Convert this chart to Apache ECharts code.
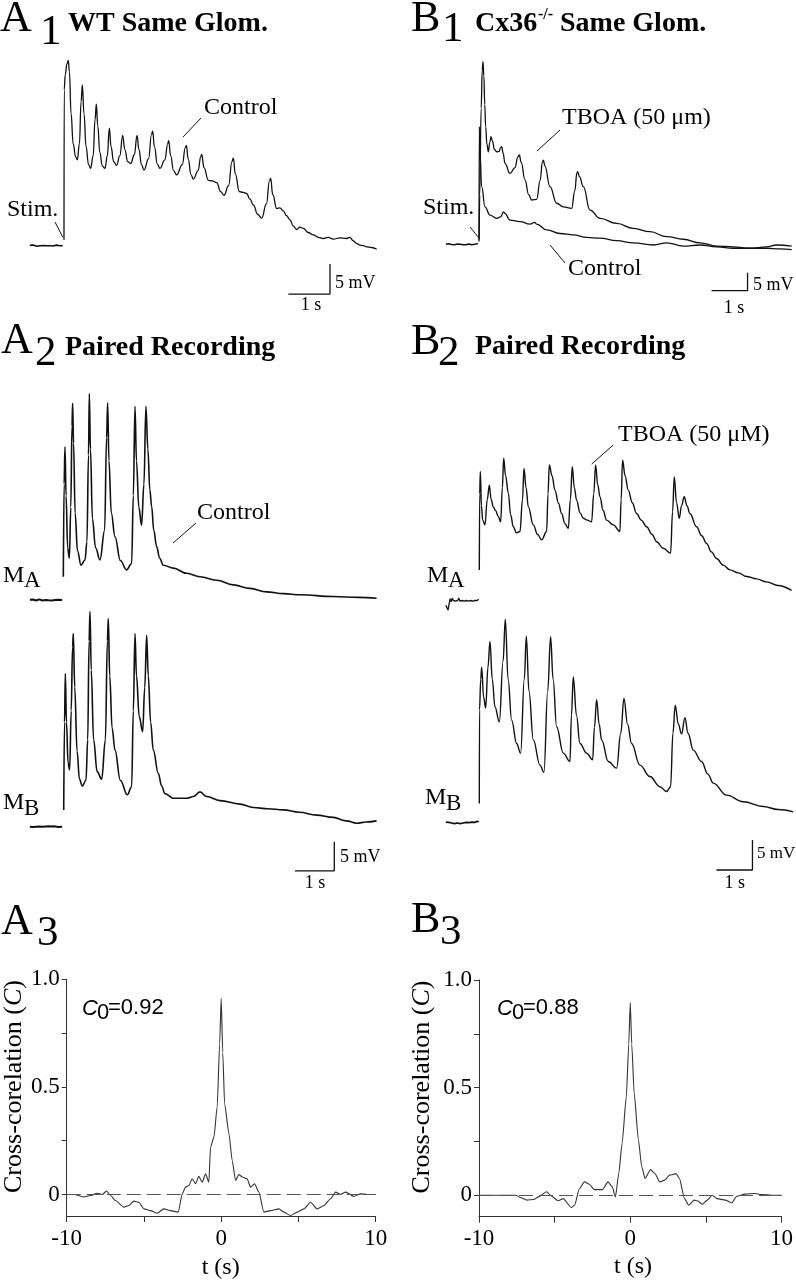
<!DOCTYPE html>
<html><head><meta charset="utf-8">
<script src="https://cdn.jsdelivr.net/npm/echarts@6/dist/echarts.min.js"></script>
<style>html,body{margin:0;padding:0;background:#fff}#c{width:796px;height:1280px}</style>
</head><body><div id="c"></div>
<script>
// ---------------- DATA (time s, membrane potential mV relative to rest) ----------------
const A1_BASE = [[-0.82,0.05],[-0.78,0.0],[-0.74,0.12],[-0.7,0.02],[-0.66,-0.08],[-0.62,0.06],[-0.58,0.0],[-0.54,-0.1],[-0.5,0.04],[-0.46,0.1],[-0.42,-0.02],[-0.38,-0.1],[-0.34,0.0],[-0.3,0.08],[-0.26,-0.04],[-0.22,0.02],[-0.18,0.1],[-0.14,-0.06],[-0.1,0.0],[-0.06,0.06],[-0.03,-0.02]];
const A1_CONTROL = [[0.0,1.0],[0.005,26],[0.03,28.5],[0.07,30.3],[0.104,30.9],[0.13,29],[0.17,22],[0.22,17],[0.28,14.8],[0.32,14.3],[0.37,17],[0.41,24],[0.44,26.8],[0.48,22],[0.53,16.5],[0.59,13.5],[0.64,12.9],[0.7,15],[0.745,21],[0.776,23.6],[0.81,20],[0.86,15.5],[0.92,13.3],[0.984,12.9],[1.04,15],[1.088,19.6],[1.13,16.5],[1.19,14],[1.264,13.4],[1.34,15],[1.408,18.4],[1.46,16],[1.53,14],[1.6,13.7],[1.69,15.2],[1.752,18.4],[1.8,16],[1.86,13.5],[1.92,12.6],[2.03,14.5],[2.1,18.5],[2.128,19.1],[2.17,16.5],[2.24,13.6],[2.304,12.9],[2.42,14.3],[2.49,17],[2.512,17.5],[2.56,15],[2.63,12.5],[2.704,11.8],[2.84,13.5],[2.91,16.3],[2.936,16.7],[2.98,14.5],[3.05,11.8],[3.104,11.1],[3.22,12.5],[3.28,14.8],[3.304,15.2],[3.36,13],[3.464,10.9],[3.56,10.8],[3.664,10.5],[3.76,9],[3.84,8.4],[3.95,10],[4.03,14],[4.064,14.6],[4.11,12],[4.208,9.0],[4.3,8.9],[4.384,8.7],[4.46,7.8],[4.544,6.8],[4.65,5.2],[4.744,4.6],[4.86,7],[4.93,10.8],[4.96,11.2],[5.01,8.5],[5.104,6.2],[5.18,6.3],[5.264,5.8],[5.34,5.0],[5.424,4.3],[5.5,3.3],[5.584,2.7],[5.66,3.1],[5.744,2.9],[5.86,2.2],[5.984,1.8],[6.1,1.4],[6.224,1.2],[6.34,1.4],[6.464,1.1],[6.62,1.3],[6.784,1.2],[6.86,1.4],[6.944,0.8],[7.02,0.4],[7.104,0.1],[7.19,0.0],[7.264,-0.2],[7.38,-0.3],[7.504,-0.6]];

const B1_BASE = [[-0.92,0.2],[-0.88,0.0],[-0.84,0.35],[-0.8,-0.1],[-0.76,0.15],[-0.72,-0.25],[-0.68,0.1],[-0.64,0.0],[-0.6,0.25],[-0.56,-0.15],[-0.52,0.2],[-0.48,-0.1],[-0.44,0.05],[-0.4,-0.3],[-0.36,0.1],[-0.32,-0.05],[-0.28,0.25],[-0.24,-0.15],[-0.2,0.05],[-0.16,-0.2],[-0.12,0.2],[-0.08,0.05],[-0.03,0.4]];
const B1_TBOA = [[0.005,1.5],[0.02,14],[0.06,38],[0.09,48.5],[0.111,50.9],[0.135,47],[0.16,39],[0.185,32.9],[0.22,28],[0.259,25.9],[0.3,28.5],[0.333,30.1],[0.37,29],[0.43,26.5],[0.491,25.9],[0.56,26],[0.6,27],[0.63,27.3],[0.67,25.5],[0.722,22.7],[0.861,19.9],[1.0,21.5],[1.08,24.5],[1.12,25],[1.17,23],[1.278,18.1],[1.38,14],[1.463,12.5],[1.602,12.7],[1.7,18],[1.76,23],[1.787,23.6],[1.83,22],[1.972,16.2],[2.157,11.6],[2.343,10.6],[2.574,10.2],[2.66,15],[2.72,20],[2.741,20.4],[2.79,19],[2.898,16.2],[3.083,9.7],[3.361,7.4],[3.824,6.0],[4.287,4.6],[4.75,3.7],[5.213,2.3],[5.676,1.6],[6.139,0.6],[6.602,-0.3],[7.065,-0.5],[7.528,-0.9],[7.991,-0.5],[8.269,0.0],[8.685,-0.3]];
const B1_CONTROL = [[0.0,1.0],[0.009,32.9],[0.03,25],[0.074,16.2],[0.167,10.6],[0.306,8.3],[0.491,7.4],[0.6,7.8],[0.68,9.2],[0.722,8.8],[0.861,6.9],[1.139,6.5],[1.417,5.8],[1.55,6.3],[1.602,5.8],[1.88,4.2],[2.25,3.2],[2.62,2.8],[2.991,2.1],[3.361,1.9],[3.824,1.2],[4.287,0.6],[4.843,0.0],[5.213,0.6],[5.676,-0.3],[6.139,0.0],[6.602,-0.5],[7.065,-0.9],[7.528,-0.9],[7.991,-0.9],[8.361,-1.1],[8.685,-1.3]];

const A2_MA_BASE = [[-0.85,0.05],[-0.81,-0.05],[-0.77,0.08],[-0.73,0.0],[-0.69,-0.08],[-0.65,0.04],[-0.61,0.1],[-0.57,-0.02],[-0.53,-0.08],[-0.49,0.05],[-0.45,0.0],[-0.41,0.08],[-0.37,-0.05],[-0.33,0.02],[-0.29,-0.08],[-0.25,0.06],[-0.21,0.0],[-0.17,-0.06],[-0.13,0.04],[-0.09,-0.02],[-0.03,0.0]];
const A2_MA = [[0.0,4.0],[0.02,20],[0.042,26.4],[0.07,18],[0.11,9],[0.153,7.2],[0.19,16],[0.22,30],[0.237,33.9],[0.26,27],[0.3,15],[0.36,8.5],[0.449,6.0],[0.551,6.9],[0.6,10],[0.64,25],[0.661,35.6],[0.69,26],[0.74,14],[0.82,9],[0.932,6.9],[1.05,12],[1.1,28],[1.127,34.0],[1.16,24],[1.22,15],[1.314,10.9],[1.45,6.8],[1.61,5.2],[1.737,6.3],[1.78,18],[1.822,33.4],[1.86,24],[1.92,16],[1.99,12.9],[2.05,20],[2.10,33.4],[2.15,26],[2.2,19],[2.246,16.1],[2.3,12],[2.373,9.2],[2.45,7.2],[2.542,6.0],[2.797,5.5],[3.136,4.6],[3.475,4.0],[3.898,3.4],[4.322,2.6],[4.746,2.0],[5.169,1.4],[5.6,1.1],[6.017,0.9],[6.864,0.6],[7.5,0.45],[7.966,0.3]];
const A2_MB_BASE = [[-0.85,0.0],[-0.81,0.08],[-0.77,-0.05],[-0.73,0.05],[-0.69,0.0],[-0.65,-0.08],[-0.61,0.04],[-0.57,0.1],[-0.53,-0.02],[-0.49,-0.08],[-0.45,0.05],[-0.41,0.0],[-0.37,0.08],[-0.33,-0.05],[-0.29,0.02],[-0.25,-0.08],[-0.21,0.06],[-0.17,0.0],[-0.13,-0.06],[-0.09,0.04],[-0.03,-0.02]];
const A2_MB = [[0.01,2.9],[0.03,18],[0.051,26.4],[0.08,18],[0.12,11],[0.161,9.8],[0.2,20],[0.235,31],[0.254,33.3],[0.29,24],[0.35,13],[0.41,8.2],[0.483,7.0],[0.576,8.0],[0.62,15],[0.655,32],[0.678,37.1],[0.71,27],[0.77,15],[0.86,9.5],[0.975,8.2],[1.07,15],[1.12,32],[1.144,35.9],[1.18,26],[1.24,17],[1.314,13.2],[1.45,8],[1.627,5.5],[1.737,6.9],[1.78,20],[1.822,33.3],[1.86,26],[1.93,19],[2.017,16.4],[2.07,24],[2.119,33.0],[2.16,26],[2.22,18],[2.288,13.2],[2.415,9.2],[2.5,7],[2.585,5.7],[2.797,4.9],[3.136,4.9],[3.305,5.2],[3.475,6.0],[3.644,5.2],[3.983,4.5],[4.492,3.9],[4.831,3.3],[5.2,3.1],[5.593,2.9],[6.0,2.5],[6.441,2.0],[6.864,1.6],[7.2,1.0],[7.458,0.6],[7.7,0.8],[7.966,1.0]];

const B2_MA_BASE = [[-0.93,-0.6],[-0.9,-1.0],[-0.87,-1.4],[-0.84,-0.4],[-0.81,0.5],[-0.78,0.0],[-0.75,0.6],[-0.72,0.2],[-0.69,0.5],[-0.66,0.1],[-0.63,0.4],[-0.6,0.2],[-0.57,0.6],[-0.54,0.1],[-0.51,0.4],[-0.48,0.2],[-0.45,0.5],[-0.42,0.1],[-0.39,0.4],[-0.36,0.2],[-0.33,0.5],[-0.3,0.1],[-0.27,0.4],[-0.24,0.2],[-0.21,0.5],[-0.18,0.1],[-0.15,0.3],[-0.12,0.2],[-0.09,0.5],[-0.06,0.2],[-0.02,0.4]];
const B2_MA = [[0.0,5.3],[0.01,18],[0.028,21.7],[0.06,16],[0.093,13.6],[0.157,12.8],[0.22,17],[0.278,19.4],[0.33,17],[0.389,15.8],[0.45,15.2],[0.528,14.2],[0.593,13.3],[0.64,19],[0.676,23.9],[0.73,21],[0.806,18.1],[0.87,14.5],[0.944,12.5],[1.03,11.5],[1.13,11.7],[1.2,17],[1.241,22.2],[1.3,19],[1.361,15.8],[1.5,12.8],[1.62,11.2],[1.731,10.3],[1.87,11.7],[1.91,18],[1.944,22.8],[2.02,21],[2.102,18.6],[2.2,16.4],[2.287,14.7],[2.38,13],[2.472,12.2],[2.53,17],[2.583,22.5],[2.64,19],[2.704,16.9],[2.8,14.8],[2.889,13.9],[3.0,13.6],[3.12,13.3],[3.18,18],[3.231,22.8],[3.29,19.5],[3.352,17.5],[3.44,15.2],[3.537,13.6],[3.722,12.8],[3.907,11.7],[3.94,17],[3.981,23.6],[4.05,21],[4.139,18.6],[4.25,16.5],[4.37,14.7],[4.5,13.6],[4.648,12.5],[4.8,11.2],[4.926,10.0],[5.111,8.9],[5.315,8.1],[5.37,15],[5.417,20.8],[5.48,16.5],[5.556,13.9],[5.62,16],[5.694,17.5],[5.77,16],[5.852,14.7],[6.037,12.5],[6.18,11],[6.315,9.7],[6.45,8.3],[6.593,7.2],[6.78,6.1],[6.963,5.3],[7.2,4.8],[7.426,4.2],[7.7,3.8],[7.981,3.3],[8.3,2.7],[8.676,1.9]];
const B2_MB_BASE = [[-0.93,0.2],[-0.89,0.0],[-0.85,0.15],[-0.81,-0.1],[-0.77,0.05],[-0.73,-0.25],[-0.69,-0.05],[-0.65,-0.2],[-0.61,0.05],[-0.57,-0.25],[-0.53,-0.05],[-0.49,-0.15],[-0.45,0.05],[-0.41,-0.1],[-0.37,0.15],[-0.33,-0.05],[-0.29,0.1],[-0.25,0.0],[-0.21,0.2],[-0.17,0.05],[-0.13,0.15],[-0.09,0.1],[-0.05,0.35],[-0.02,0.2]];
const B2_MB = [[0.0,3.3],[0.005,18.9],[0.04,24],[0.065,26],[0.12,21],[0.176,19.2],[0.24,26],[0.296,30.3],[0.36,24],[0.435,19.4],[0.556,16.9],[0.66,27],[0.722,34],[0.8,24],[0.898,17.2],[1.037,13.3],[1.148,11.7],[1.25,24],[1.306,31.2],[1.38,22],[1.5,13.9],[1.685,9.7],[1.796,8.5],[1.9,22],[1.981,31.1],[2.05,24],[2.148,16.1],[2.333,11.7],[2.519,10.3],[2.56,18],[2.611,24.4],[2.7,18],[2.796,13.3],[2.981,11.7],[3.148,10.6],[3.2,16],[3.259,20.6],[3.33,16.5],[3.398,13.9],[3.583,10.3],[3.815,9.2],[3.93,15],[4.019,20.8],[4.12,16.5],[4.231,13.3],[4.463,9.7],[4.741,7.8],[5.019,6.1],[5.204,5.3],[5.315,6.1],[5.38,15],[5.444,19.7],[5.53,16.5],[5.62,14.9],[5.713,17.6],[5.8,15],[5.944,12.2],[6.176,10.3],[6.35,8.2],[6.5,6.7],[6.87,4.7],[7.333,3.6],[7.889,2.8],[8.3,2.3],[8.722,1.9]];

// cross-correlation (lag s, C)
const A3_XCORR = [[-10,0],[-9.5,0],[-8.89,-0.012],[-8.46,-0.005],[-8.03,0.006],[-7.7,0],[-7.42,0.016],[-7.16,-0.005],[-6.84,-0.028],[-6.3,-0.059],[-5.98,-0.051],[-5.65,-0.031],[-5.33,-0.036],[-5.0,-0.067],[-4.57,-0.075],[-4.14,-0.087],[-3.71,-0.067],[-3.28,-0.075],[-2.78,-0.082],[-2.52,0.003],[-2.31,0.034],[-2.09,0.042],[-1.88,0.073],[-1.66,0.05],[-1.45,0.084],[-1.23,0.057],[-1.01,0.096],[-0.8,0.057],[-0.69,0.22],[-0.47,0.267],[-0.26,0.407],[-0.1,0.7],[0,0.912],[0.1,0.66],[0.22,0.422],[0.5,0.283],[0.71,0.158],[0.93,0.065],[1.14,0.093],[1.36,0.081],[1.68,0.073],[1.9,0.034],[2.16,0.05],[2.44,0.011],[2.76,-0.082],[3.19,-0.075],[3.73,-0.067],[4.06,-0.082],[4.49,-0.098],[4.92,-0.082],[5.35,-0.067],[5.78,-0.036],[6.21,-0.067],[6.65,-0.051],[7.08,-0.02],[7.4,0.011],[7.72,0],[8.05,0.011],[8.59,-0.009],[9.02,0.003],[9.45,0],[10,0]];
const B3_XCORR = [[-10,0],[-8.23,0],[-7.58,0],[-7.26,-0.011],[-6.83,-0.023],[-6.39,-0.02],[-6.07,-0.008],[-5.53,0.016],[-5.2,-0.005],[-4.77,-0.026],[-4.44,-0.016],[-3.9,-0.057],[-3.68,-0.047],[-3.36,0.031],[-3.03,0.062],[-2.71,0.051],[-2.38,0.026],[-1.84,0.026],[-1.47,0.062],[-1.19,0.039],[-0.98,-0.008],[-0.76,0.1],[-0.54,0.24],[-0.26,0.457],[-0.1,0.7],[0,0.895],[0.1,0.7],[0.26,0.473],[0.54,0.256],[0.76,0.132],[0.98,0.078],[1.34,0.119],[1.63,0.101],[1.95,0.062],[2.28,0.07],[2.6,0.093],[3.03,0.1],[3.25,0.078],[3.58,-0.015],[3.86,-0.047],[4.23,-0.023],[4.44,-0.026],[4.77,-0.042],[5.09,-0.023],[5.42,0],[5.74,-0.016],[6.28,-0.023],[6.72,-0.036],[7.04,-0.005],[7.58,0.005],[8.23,0.008],[8.67,0.003],[9.32,0],[10,0]];

const XCORR_TICKS = [0, 0.25, 0.5, 0.75, 1.0];
const XCORR_LABELS = [0, 0.5, 1.0];
const LAG_LABELS = [-10, 0, 10];
const C0_A = '0.92', C0_B = '0.88';

// scale bars: 1 s x 5 mV
const SCALE_T = 1, SCALE_V = 5;

// ---------------- LAYOUT ----------------
const SERIF = '"Liberation Serif","Times New Roman",serif';
const SANS = '"Liberation Sans",Arial,sans-serif';
const INK = '#111';

// grid: [left, top, width, height, xmin, xmax, ymin, ymax]
const G = [
  [22.33, 47.7, 375, 258, -1, 8, -10, 33],      // 0 A1
  [443, 54.2, 352.8, 241.2, -1, 8.8, -14, 53],  // 1 B1
  [24, 379.6, 361.8, 237.8, -1, 8.2, -3, 38],   // 2 A2 MA
  [24, 600.5, 361.8, 278.4, -1, 8.2, -9, 39],   // 3 A2 MB
  [443.33, 445.7, 352.8, 174, -1, 8.8, -3, 26], // 4 B2 MA
  [443.33, 607.3, 352.8, 270, -1, 8.8, -9, 36], // 5 B2 MB
];
const scaleCorner = {0:[6.384,-8.06], 1:[7.46,-12.7], 3:[6.89,-7.6], 5:[7.59,-7.78]};

const grids = [], xAxes = [], yAxes = [], series = [];
G.forEach((g, i) => {
  grids.push({left:g[0], top:g[1], width:g[2], height:g[3], containLabel:false});
  xAxes.push({type:'value', gridIndex:i, min:g[4], max:g[5], show:false});
  yAxes.push({type:'value', gridIndex:i, min:g[6], max:g[7], show:false});
});
// correlation grids
grids.push({left:66.7, top:979.3, width:309, height:236.7});
grids.push({left:479, top:980, width:307.7, height:236.7});
[6,7].forEach(i => {
  xAxes.push({type:'value', gridIndex:i, min:-10, max:10, interval:5,
    axisLine:{show:true, onZero:false, lineStyle:{color:'#333', width:1}},
    axisTick:{show:true, inside:false, length:6, lineStyle:{color:'#333'}},
    axisLabel:{show:true, customValues:LAG_LABELS, margin:11, color:'#000', fontFamily:SERIF, fontSize:23},
    splitLine:{show:false}});
  yAxes.push({type:'value', gridIndex:i, min:-0.1, max:1.0,
    axisLine:{show:true, onZero:false, lineStyle:{color:'#333', width:1}},
    axisTick:{show:true, inside:false, length:5, customValues:XCORR_TICKS, lineStyle:{color:'#333'}},
    axisLabel:{show:true, customValues:XCORR_LABELS, margin:7, color:'#000', fontFamily:SERIF, fontSize:23,
      formatter:v => v === 0 ? '0' : v.toFixed(1)},
    splitLine:{show:false}});
});

function trace(data, gi, w, sm) {
  series.push({type:'line', xAxisIndex:gi, yAxisIndex:gi, data:data, symbol:'none', showSymbol:false,
    smooth:sm, smoothMonotone:'x', silent:true, animation:false,
    lineStyle:{color:INK, width:w}});
}
trace(A1_BASE,0,1.6,false); trace(A1_CONTROL,0,1.3,0.45);
trace(B1_BASE,1,1.5,false); trace(B1_TBOA,1,1.3,0.45); trace(B1_CONTROL,1,1.3,0.45);
trace(A2_MA_BASE,2,2.0,false); trace(A2_MA,2,1.6,0.4);
trace(A2_MB_BASE,3,2.0,false); trace(A2_MB,3,1.6,0.4);
trace(B2_MA_BASE,4,1.3,false); trace(B2_MA,4,1.4,0.4);
trace(B2_MB_BASE,5,1.7,false); trace(B2_MB,5,1.4,0.4);

Object.keys(scaleCorner).forEach(k => {
  const [t, v] = scaleCorner[k];
  series.push({type:'line', xAxisIndex:+k, yAxisIndex:+k, symbol:'none', silent:true, animation:false,
    data:[[t - SCALE_T, v],[t, v],[t, v + SCALE_V]], lineStyle:{color:INK, width:1.3}});
});

[[6, A3_XCORR],[7, B3_XCORR]].forEach(([gi, d]) => {
  series.push({type:'line', xAxisIndex:gi, yAxisIndex:gi, data:d, symbol:'none', smooth:0.2, smoothMonotone:'x',
    silent:true, animation:false, lineStyle:{color:'#333', width:1.1},
    markLine:{silent:true, symbol:['none','none'], label:{show:false}, animation:false,
      lineStyle:{type:[14,6], color:'#555', width:1}, data:[{yAxis:0}]}});
});

// ---------------- TEXT / ANNOTATIONS ----------------
function T(text, x, y, size, o) {
  o = o || {};
  const font = (o.italic ? 'italic ' : '') + (o.bold ? 'bold ' : '') + size + 'px ' + (o.family || SERIF);
  const st = {text:text, font:font, fill:o.fill || '#000',
    align:o.align || 'left', textAlign:o.align || 'left', verticalAlign:'middle', textVerticalAlign:'middle'};
  if (o.rich) st.rich = o.rich;
  return {type:'text', x:x, y:y, rotation:o.rot || 0, silent:true, style:st};
}
function L(x1, y1, x2, y2) {
  return {type:'line', silent:true, shape:{x1:x1, y1:y1, x2:x2, y2:y2}, style:{stroke:INK, lineWidth:1}};
}
const YNAME_RICH = {a:{fontFamily:SERIF, fontSize:26, fill:'#000'}, b:{fontFamily:SERIF, fontSize:26, fontStyle:'italic', fill:'#000'}};
const gfx = [
  // panel letters + titles
  T('A', 0, 19.5, 44), T('1', 40, 32.5, 43), T('WT Same Glom.', 68, 24, 28, {bold:true}),
  T('B', 411, 19, 44), T('1', 442, 30, 43),
  T('Cx36', 475, 24, 28, {bold:true}), T('-/-', 538, 15, 16, {bold:true}), T('Same Glom.', 560, 24, 28, {bold:true}),
  T('A', 1, 341, 44), T('2', 35, 354, 43), T('Paired Recording', 65, 347.5, 28, {bold:true}),
  T('B', 411, 342.5, 44), T('2', 438, 354, 43), T('Paired Recording', 475, 347, 28, {bold:true}),
  T('A', 1, 922, 44), T('3', 37, 934, 43),
  T('B', 411, 920, 44), T('3', 440, 933, 43),
  // A1
  T('Control', 204, 108, 24), L(201,118,183,137),
  T('Stim.', 7, 210, 24), L(55,222,62.7,237),
  T('5 mV', 335, 283, 18), T('1 s', 311, 305, 18, {align:'center'}),
  // B1
  T('TBOA (50 \u03bcm)', 562, 118, 24), L(560,130,537,151),
  T('Stim.', 423, 208, 24), L(470,227,479,238),
  T('Control', 568, 269, 24), L(565,263,550,245),
  T('5 mV', 753, 285, 18), T('1 s', 734, 308, 18, {align:'center'}),
  // A2
  T('Control', 197, 513, 24), L(196,523,173,543),
  T('M', 3, 575.5, 24), T('A', 24, 581, 23),
  T('M', 3, 802.5, 24), T('B', 24, 809, 23),
  T('5 mV', 340, 857.7, 18), T('1 s', 315, 883, 18, {align:'center'}),
  // B2
  T('TBOA (50 \u03bcM)', 618, 435, 24), L(613.3,445,591.7,464),
  T('M', 427, 575.7, 24), T('A', 448, 581, 23),
  T('M', 425, 797.5, 24), T('B', 446, 803.5, 23),
  T('5 mV', 757, 854, 17), T('1 s', 734.7, 883, 18, {align:'center'}),
  // A3 / B3
  T('C', 82, 1008.7, 22, {family:SANS, italic:true}), T('0', 97, 1013, 22, {family:SANS}), T('=' + C0_A, 108, 1007.5, 22, {family:SANS}),
  T('C', 497, 1008.7, 22, {family:SANS, italic:true}), T('0', 512, 1013, 22, {family:SANS}), T('=' + C0_B, 523, 1007.5, 22, {family:SANS}),
  T('{a|Cross-corelation (}{b|C}{a|)}', 14, 1086.5, 26, {align:'center', rot:Math.PI/2, rich:YNAME_RICH}),
  T('{a|Cross-corelation (}{b|C}{a|)}', 422.5, 1087, 26, {align:'center', rot:Math.PI/2, rich:YNAME_RICH}),
  T('t (s)', 220.7, 1268, 24, {align:'center'}),
  T('t (s)', 633, 1267, 24, {align:'center'}),
];

const chart = echarts.init(document.getElementById('c'), null, {renderer:'canvas', width:796, height:1280});
chart.setOption({
  backgroundColor:'#fff', animation:false,
  grid:grids, xAxis:xAxes, yAxis:yAxes, series:series, graphic:{elements:gfx}
});
</script></body></html>
